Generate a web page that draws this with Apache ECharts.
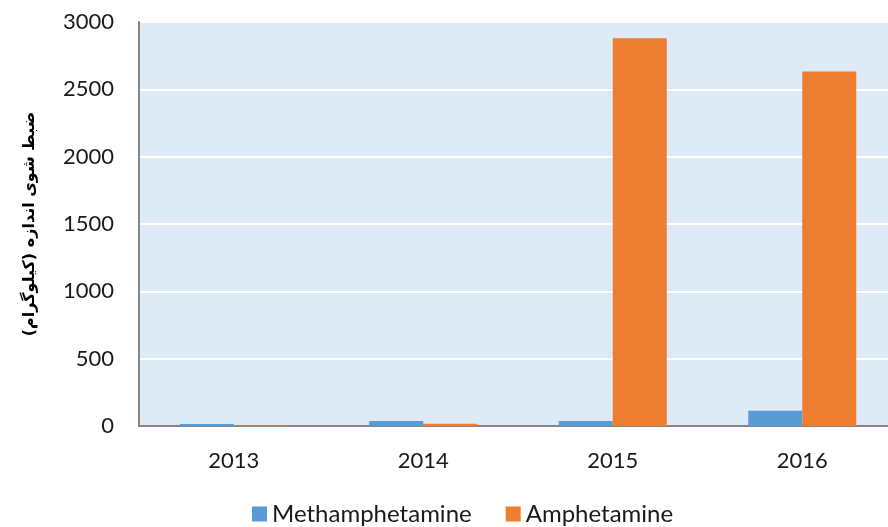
<!DOCTYPE html>
<html><head><meta charset="utf-8">
<script src="https://cdn.jsdelivr.net/npm/echarts@6/dist/echarts.min.js"></script>
<style>html,body{margin:0;padding:0;background:#fff;overflow:hidden;width:888px;height:527px}#c{width:897px;height:527px}</style>
</head><body><div id="c"></div>
<script>
const categories = ['2013', '2014', '2015', '2016'];
const methamphetamine = [15, 37, 37, 114];
const amphetamine = [4, 17, 2880, 2633];
const seriesNames = ['Methamphetamine', 'Amphetamine'];
const yTitle = 'ضبط شوی اندازه (کیلوگرام)';

const chart = echarts.init(document.getElementById('c'));
const font = 'Lato, "Liberation Sans", sans-serif';
chart.setOption({
  animation: false,
  grid: {left: 139, right: 0, top: 22, bottom: 101, show: true, backgroundColor: '#DEEAF6', borderWidth: 0},
  legend: {
    top: 497, left: 247, itemWidth: 15, itemHeight: 15, itemGap: 34,
    icon: 'rect',
    textStyle: {fontFamily: font, fontSize: 24, color: '#1a1a1a'},
    data: seriesNames
  },
  xAxis: {
    type: 'category', data: categories,
    axisLine: {lineStyle: {color: '#868686', width: 2}},
    axisTick: {show: false},
    axisLabel: {fontFamily: font, fontSize: 22, color: '#1a1a1a', margin: 24}
  },
  yAxis: {
    type: 'value', min: 0, max: 3000, interval: 500,
    name: yTitle, nameLocation: 'middle', nameRotate: 90, nameGap: 101,
    nameTextStyle: {fontFamily: '"DejaVu Sans", sans-serif', fontWeight: 'bold', fontSize: 16, color: '#000'},
    axisLine: {show: true, lineStyle: {color: '#868686', width: 2}},
    axisTick: {show: false},
    splitLine: {lineStyle: {color: '#ffffff', width: 2}},
    axisLabel: {fontFamily: font, fontSize: 22, color: '#1a1a1a', margin: 25, formatter: v => String(v)}
  },
  series: [
    {name: seriesNames[0], type: 'bar', data: methamphetamine, barGap: '0%', barCategoryGap: '43%',
     itemStyle: {color: '#5B9BD5'}},
    {name: seriesNames[1], type: 'bar', data: amphetamine, barGap: '0%', barCategoryGap: '43%',
     itemStyle: {color: '#ED7D31'}}
  ]
});
</script></body></html>
